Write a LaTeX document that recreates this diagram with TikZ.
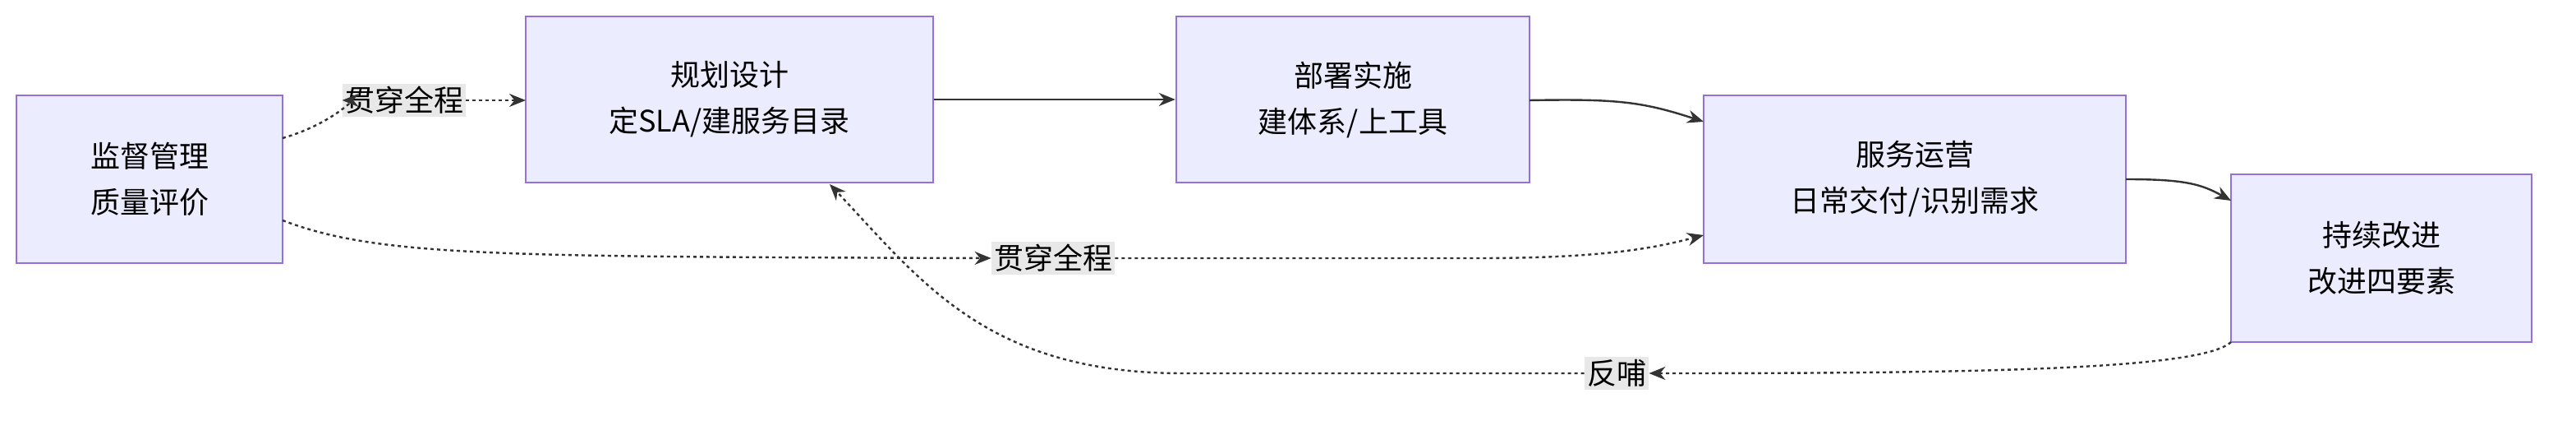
\documentclass[tikz,border=0pt]{standalone}
\usepackage{fontspec}
\setmainfont{Noto Sans CJK SC}
\usetikzlibrary{arrows.meta}
\definecolor{nfill}{HTML}{ECECFF}
\definecolor{nline}{HTML}{9370DB}
\definecolor{eline}{HTML}{333333}
\definecolor{lbg}{HTML}{E8E8E8}
\begin{document}
\begin{tikzpicture}[x=1pt,y=-1pt,
 box/.style={draw=nline,fill=nfill,line width=1.2pt,align=center,font=\fontsize{18}{28}\selectfont,inner sep=0pt},
 e/.style={draw=eline,line width=1.2pt,-{Stealth[length=10pt,width=8pt]}},
 d/.style={e,dash pattern=on 2pt off 2pt},
 lab/.style={fill=lbg,font=\fontsize{18}{22}\selectfont,inner sep=1.5pt}]
\useasboundingbox (0,0) rectangle (1568,256);
\node[box,minimum width=162pt,minimum height=102pt] (A) at (91,109) {监督管理\\质量评价};
\node[box,minimum width=248pt,minimum height=101pt] (B) at (444,60.5) {规划设计\\定SLA/建服务目录};
\node[box,minimum width=215pt,minimum height=101pt] (C) at (823.5,60.5) {部署实施\\建体系/上工具};
\node[box,minimum width=257pt,minimum height=102pt] (D) at (1165.5,109) {服务运营\\日常交付/识别需求};
\node[box,minimum width=183pt,minimum height=102pt] (E) at (1449.5,157) {持续改进\\改进四要素};
\coordinate (a1) at (172,84);
\coordinate (a2) at (172,134);
\coordinate (b1) at (320,61);
\coordinate (b2) at (505,112);
\coordinate (d1) at (1037,143);
\coordinate (d2) at (1037,74);
\coordinate (e1) at (1358,208);
\coordinate (e2) at (1358,122);
\node[lab] (L1) at (246,61) {贯穿全程};
\node[lab] (L2) at (641,157) {贯穿全程};
\node[lab] (L3) at (984,227) {反哺};
\draw[d] (a1) .. controls (200,76) and (215,61) .. (L1.west);
\draw[d] (L1.east) -- (b1);
\draw[d] (a2) .. controls (230,156) and (300,156) .. (L2.west);
\draw[d] (L2.east) -- (900,157) .. controls (980,157) and (1010,150) .. (d1);
\draw[d] (e1) .. controls (1340,225) and (1200,227) .. (L3.east);
\draw[d] (L3.west) -- (720,227) .. controls (600,227) and (560,170) .. (b2);
\draw[e] (B.east) -- (C.west);
\draw[e] (931,61) .. controls (985,60) and (1000,62) .. (d2);
\draw[e] (1294,109) .. controls (1330,109) and (1340,112) .. (e2);
\end{tikzpicture}
\end{document}
